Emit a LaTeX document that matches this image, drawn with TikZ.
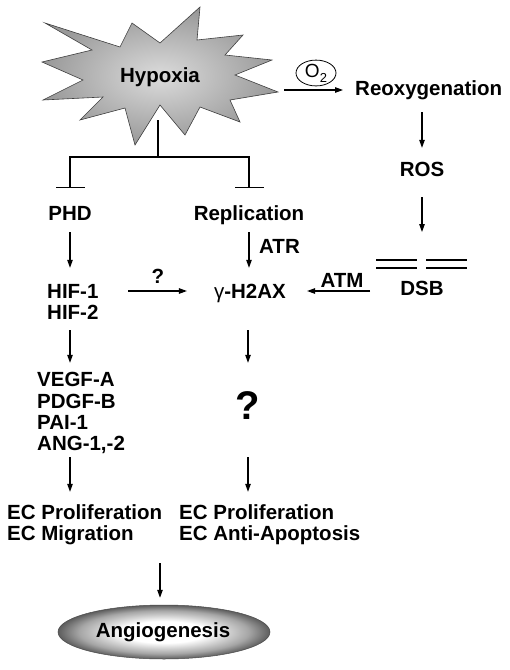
\documentclass[tikz,border=0pt]{standalone}
\usepackage{fontspec}
\setmainfont{Liberation Sans}
\usetikzlibrary{arrows.meta,shapes.geometric}
\newcommand{\fsz}{\fontsize{20.5}{21.5}\selectfont\bfseries}
\pgfdeclareradialshading{angsh}{\pgfpoint{0bp}{0bp}}{color(0bp)=(white); color(10bp)=(white); color(20bp)=(black!35); color(27bp)=(black!75); color(50bp)=(black!80)}
\tikzset{
  lbl/.style={font=\fsz, inner sep=0pt, text height=15pt, text depth=0pt},
  arr/.style={-{Triangle[length=8pt,width=5.5pt]}, line width=1.1pt},
  inh/.style={-{Bar[width=29pt]}, line width=1.1pt},
  plain/.style={line width=1.1pt}
}
\begin{document}
\begin{tikzpicture}[x=1pt,y=-1pt]
\useasboundingbox[fill=white] (0,0) rectangle (510,670);
% star
\shadedraw[inner color=black!14, outer color=black!40, draw=black!75, line width=0.6pt]
 (45,23) -- (120,47) -- (132,23) -- (160,43) -- (200,7) -- (197,40) -- (243,35) -- (225,55)
 -- (272,60) -- (235,75) -- (278,92) -- (230,100) -- (240,122) -- (200,107) -- (185,135)
 -- (160,105) -- (135,145) -- (125,108) -- (80,120) -- (103,97) -- (43,100) -- (83,80)
 -- (42,62) -- (92,50) -- cycle;
\node[lbl] (hyp) at (160,75) {Hypoxia};
\node[lbl, anchor=west] (reox) at (355,88) {Reoxygenation};
\node[lbl] (ros) at (422,169) {ROS};
\node[lbl] (dsb) at (422,288) {DSB};
\node[lbl] (phd) at (70,213) {PHD};
\node[lbl] (repl) at (249,213) {Replication};
\node[lbl, anchor=west] (atr) at (259,246) {ATR};
\node[lbl, anchor=west] (hif1) at (47,291) {HIF-1};
\node[lbl, anchor=west] (hif2) at (47,312) {HIF-2};
\node[lbl] (gh) at (250,291) {{\mdseries γ}-H2AX};
\node[lbl] (q1) at (158,276) {?};
\node[lbl] (atm) at (342,280) {ATM};
\node[lbl, anchor=west] (vegf1) at (37,379) {VEGF-A};
\node[lbl, anchor=west] (vegf2) at (37,401) {PDGF-B};
\node[lbl, anchor=west] (vegf3) at (37,422) {PAI-1};
\node[lbl, anchor=west] (vegf4) at (37,443) {ANG-1,-2};
\node[font=\fontsize{40}{40}\selectfont\bfseries, inner sep=0pt, text height=28pt, text depth=0pt] (qm) at (248,405) {?};
\node[lbl, anchor=west] (ecl1) at (7,512) {EC Proliferation};
\node[lbl, anchor=west] (ecl2) at (7,533) {EC Migration};
\node[lbl, anchor=west] (ecr1) at (179,512) {EC Proliferation};
\node[lbl, anchor=west] (ecr2) at (179,533) {EC Anti-Apoptosis};
\node[ellipse, shading=angsh, draw=black!70, line width=0.5pt, minimum width=212pt, minimum height=54pt, inner sep=0pt] (ang) at (164,632) {};
\node[lbl] (angt) at (163,630) {Angiogenesis};
\node[ellipse, draw, line width=0.8pt, minimum width=40pt, minimum height=24pt, inner sep=0pt] (o2) at (316,73)
  {\fontsize{19}{19}\selectfont O\raisebox{-5pt}{\fontsize{13}{13}\selectfont 2}};
% connectors
\coordinate (hypr) at (284,90);
\draw[arr, shorten >=12pt] (hypr) -- (reox.west |- hypr);
\draw[arr, shorten <=16.5pt, shorten >=13.5pt] (reox.south -| ros) -- (ros.north);
\coordinate (brk) at (422,260);
\draw[arr, shorten <=20.5pt, shorten >=28pt] (ros.south) -- (brk);
\draw[plain] ([xshift=-46pt]brk) -- ([xshift=-5pt]brk) ([xshift=4pt]brk) -- ([xshift=45pt]brk);
\draw[plain] ([xshift=-46pt,yshift=-8pt]brk) -- ([xshift=-5pt,yshift=-8pt]brk) ([xshift=4pt,yshift=-8pt]brk) -- ([xshift=45pt,yshift=-8pt]brk);
\draw[arr, shorten <=30pt, shorten >=21pt] (dsb.west |- gh) -- (gh.east);
\coordinate (hypb) at (158,120);
\coordinate (jn) at (158,157);
\draw[plain] (hypb) -- (jn);
\draw[inh, shorten >=17.5pt] (jn) -| (phd.north);
\draw[inh, shorten >=17.5pt] (jn) -| (repl.north);
\draw[arr, shorten <=11.5pt, shorten >=15.5pt] (phd.south) -- (phd.south |- hif1.north);
\draw[arr, shorten <=11.5pt, shorten >=15.5pt] (repl.south) -- (repl.south |- gh.north);
\draw[arr, shorten <=29.5pt, shorten >=27pt] (hif1.east) -- (gh.west);
\draw[arr, shorten <=10.5pt, shorten >=8.5pt] (phd.south |- hif2.south) -- (phd.south |- vegf1.north);
\draw[arr, shorten <=31.5pt, shorten >=28pt] (gh.south -| qm) -- (qm.north);
\draw[arr, shorten <=6.5pt, shorten >=12.5pt] (phd.south |- vegf4.south) -- (phd.south |- ecl1.north);
\draw[arr, shorten <=38pt, shorten >=12.5pt] (qm.south) -- (qm.south |- ecr1.north);
\coordinate (angtop) at ([xshift=-4pt]ang.north);
\draw[arr, shorten <=22.5pt, shorten >=7pt] (angtop |- ecl2.south) -- (angtop);
\end{tikzpicture}
\end{document}
